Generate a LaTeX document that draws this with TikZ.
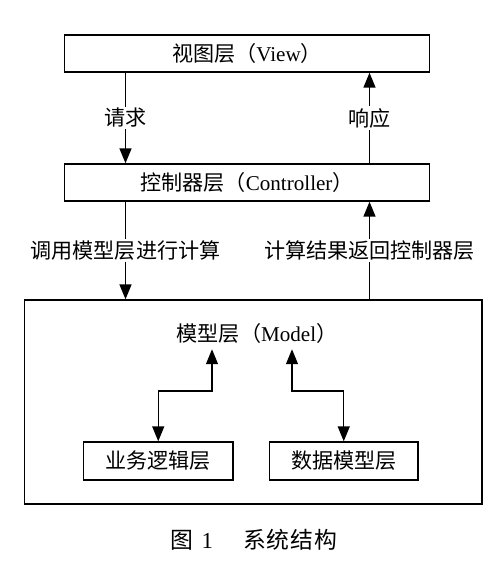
\documentclass[tikz,border=0pt]{standalone}
\usepackage{fontspec}
\setmainfont{Liberation Serif}
\newfontfamily\cjk{Noto Sans CJK SC}
\newcommand{\zh}[1]{{\cjk #1}}
\usetikzlibrary{arrows.meta, positioning, calc}

\begin{document}
\begin{tikzpicture}[x=0.02cm, y=-0.02cm,
    font=\fontsize{12}{14}\selectfont,
    layerbox/.style={draw, line width=0.8pt, rectangle, inner sep=0pt},
    arr/.style={line width=0.8pt, -{Triangle[length=0.3cm, width=0.24cm]}},
    dbl/.style={line width=0.8pt, {Triangle[length=0.3cm, width=0.24cm]}-{Triangle[length=0.3cm, width=0.24cm]}},
    lbl/.style={fill=white, inner sep=1pt}]
                \useasboundingbox (0,0) rectangle (500,565);

                % Layers
                \node[layerbox, minimum width=7.3cm, minimum height=0.74cm] (view) at (247,53.5) {\zh{视图层（}View\zh{）}};
                \node[layerbox, minimum width=7.3cm, minimum height=0.74cm] (ctrl) at (247,182.5) {\zh{控制器层（}Controller\zh{）}};
                \node[layerbox, minimum width=9.15cm, minimum height=4.08cm] (modelbox) at (253.25,402) {};
                \node (model) at (257,333) {\zh{模型层（}Model\zh{）}};
                \node[layerbox, minimum width=2.99cm, minimum height=0.76cm] (biz) at (158.25,461) {\zh{业务逻辑层}};
                \node[layerbox, minimum width=2.97cm, minimum height=0.76cm] (data) at (343.75,461) {\zh{数据模型层}};

                % Columns of the arrows
                \coordinate (lx) at (125.5,0);
                \coordinate (rx) at (369.5,0);
                \coordinate (bl) at (212,391);
                \coordinate (dl) at (292,391);

                % View <-> Controller
                \draw[arr] (view.south -| lx) -- node[lbl] {\zh{请求}} (ctrl.north -| lx);
                \draw[arr] (ctrl.north -| rx) -- node[lbl] {\zh{响应}} (view.south -| rx);

                % Controller <-> Model
                \draw[arr] (ctrl.south -| lx) -- node[lbl] {\zh{调用模型层进行计算}} (modelbox.north -| lx);
                \draw[arr] (modelbox.north -| rx) -- node[lbl] {\zh{计算结果返回控制器层}} (ctrl.south -| rx);

                % Inside the model layer
                \draw[dbl] (model.south -| bl) -- (bl) -| (biz.north);
                \draw[dbl] (model.south -| dl) -- (dl) -| (data.north);

                % Caption
                \node[font=\fontsize{13}{15}\selectfont] (caption) at (254,540) {\zh{图}\hspace{0.16cm}1\hspace{0.6cm}\zh{系\kern0.5pt 统\kern0.5pt 结\kern0.5pt 构}};
            \end{tikzpicture}
\end{document}
